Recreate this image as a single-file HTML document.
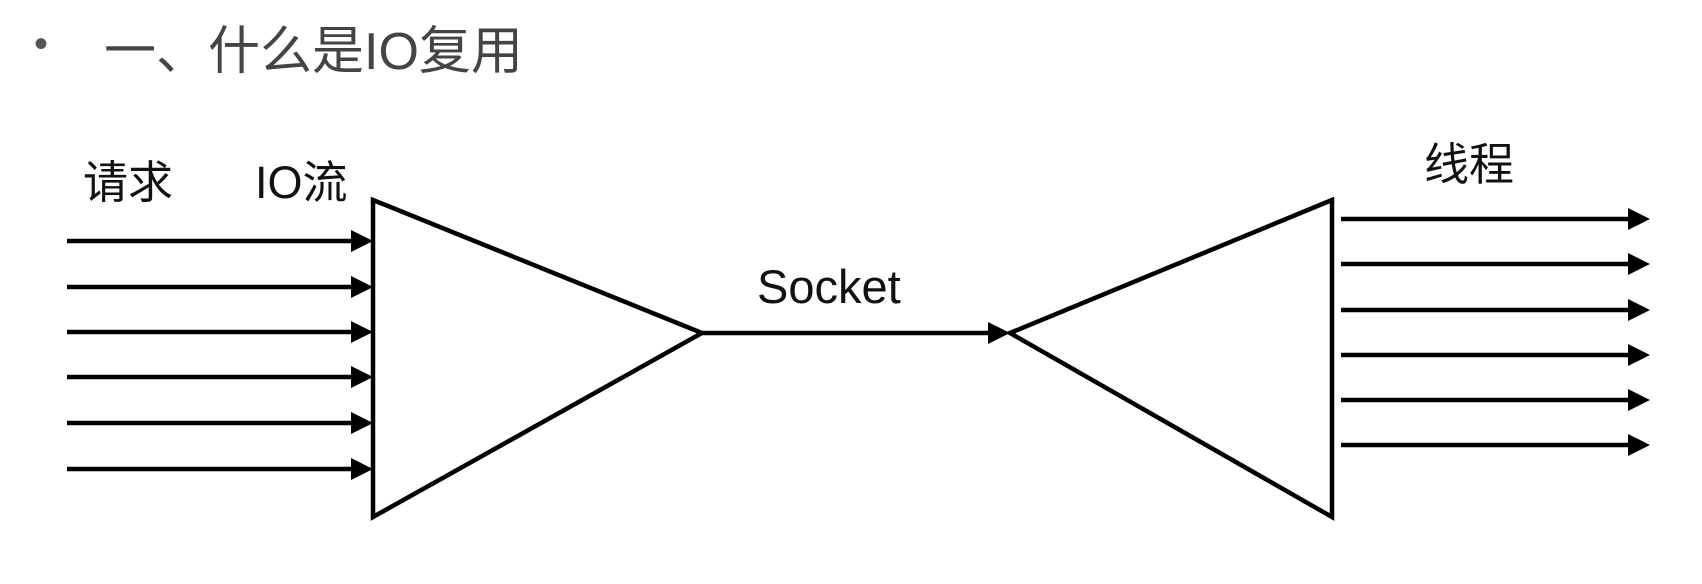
<!DOCTYPE html>
<html><head><meta charset="utf-8"><style>
html,body{margin:0;padding:0;background:#fff;}
body{width:1702px;height:584px;position:relative;overflow:hidden;}
.t{position:absolute;white-space:nowrap;font-family:"Liberation Sans","Noto Sans CJK SC",sans-serif;}
</style></head><body>
<div class="t" style="left:34px;top:22px;font-size:40px;color:#555;">•</div>
<div class="t" style="left:104px;top:22px;font-size:52px;line-height:60px;color:#444;">一、什么是IO复用</div>
<div class="t" style="left:83px;top:158px;font-size:45px;line-height:50px;color:#111;">请求</div>
<div class="t" style="left:255px;top:158px;font-size:45px;line-height:50px;color:#111;">IO流</div>
<div class="t" style="left:1424px;top:140px;font-size:45px;line-height:50px;color:#111;">线程</div>
<div class="t" style="left:757px;top:262px;font-size:47px;line-height:50px;color:#111;">Socket</div>
<svg width="1702" height="584" style="position:absolute;left:0;top:0" xmlns="http://www.w3.org/2000/svg">
<g stroke="#000" stroke-width="4.5" fill="none" stroke-linejoin="miter">
<polygon points="373,200 702,333 373,517"/>
<polygon points="1332,200 1010,333 1332,517"/>
<line x1="702" y1="333" x2="988" y2="333"/>
<line x1="67" y1="241" x2="355" y2="241"/>
<line x1="67" y1="287" x2="355" y2="287"/>
<line x1="67" y1="332" x2="355" y2="332"/>
<line x1="67" y1="377" x2="355" y2="377"/>
<line x1="67" y1="423" x2="355" y2="423"/>
<line x1="67" y1="469" x2="355" y2="469"/>
<g transform="translate(-8,0)">
<line x1="1349" y1="219" x2="1640" y2="219"/>
<line x1="1349" y1="264" x2="1640" y2="264"/>
<line x1="1349" y1="310" x2="1640" y2="310"/>
<line x1="1349" y1="355" x2="1640" y2="355"/>
<line x1="1349" y1="400" x2="1640" y2="400"/>
<line x1="1349" y1="445" x2="1640" y2="445"/>
</g>
</g>
<g fill="#000">
<polygon points="1010,333 988,322 988,344"/>
<polygon points="373,241 351,230 351,252"/>
<polygon points="373,287 351,276 351,298"/>
<polygon points="373,332 351,321 351,343"/>
<polygon points="373,377 351,366 351,388"/>
<polygon points="373,423 351,412 351,434"/>
<polygon points="373,469 351,458 351,480"/>
<g transform="translate(-8,0)">
<polygon points="1658,219 1636,208 1636,230"/>
<polygon points="1658,264 1636,253 1636,275"/>
<polygon points="1658,310 1636,299 1636,321"/>
<polygon points="1658,355 1636,344 1636,366"/>
<polygon points="1658,400 1636,389 1636,411"/>
<polygon points="1658,445 1636,434 1636,456"/>
</g>
</g>
</svg>
</body></html>
